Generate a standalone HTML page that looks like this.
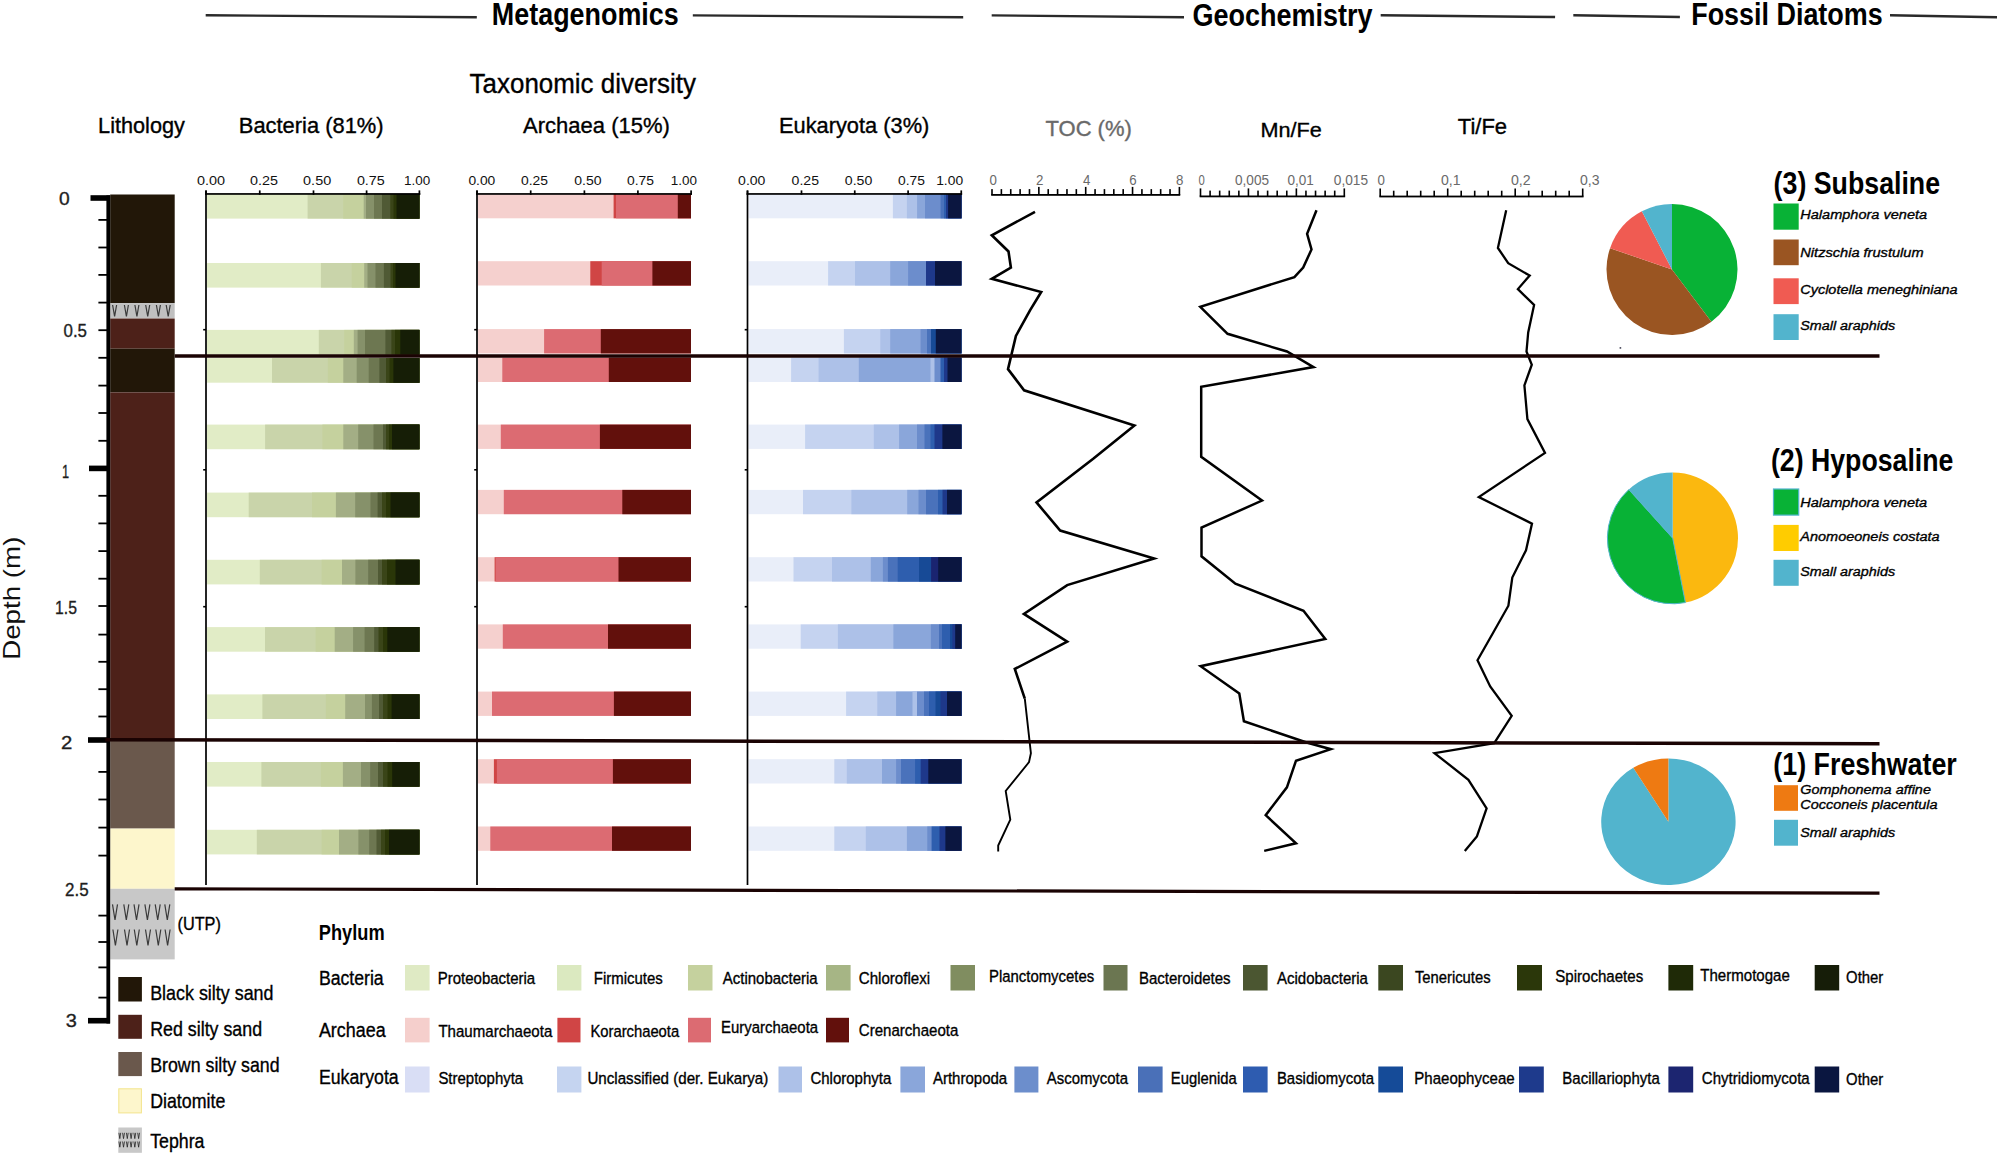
<!DOCTYPE html>
<html><head><meta charset="utf-8"><title>Metagenomics, Geochemistry and Fossil Diatoms</title>
<style>
html,body{margin:0;padding:0;background:#fff;}
svg{display:block;}
text{font-family:'Liberation Sans', Arial, sans-serif;}
</style></head>
<body>
<svg width="2000" height="1156" viewBox="0 0 2000 1156">
<rect x="0" y="0" width="2000" height="1156" fill="#fff"/>
<line x1="205.70" y1="15.30" x2="476.80" y2="17.30" stroke="#2a2a2a" stroke-width="2.4" />
<line x1="692.80" y1="15.40" x2="963.20" y2="17.30" stroke="#2a2a2a" stroke-width="2.4" />
<line x1="991.70" y1="15.40" x2="1184.00" y2="17.20" stroke="#2a2a2a" stroke-width="2.4" />
<line x1="1380.70" y1="15.20" x2="1555.10" y2="17.00" stroke="#2a2a2a" stroke-width="2.4" />
<line x1="1573.30" y1="15.20" x2="1679.90" y2="17.00" stroke="#2a2a2a" stroke-width="2.4" />
<line x1="1890.00" y1="15.20" x2="1997.00" y2="17.20" stroke="#2a2a2a" stroke-width="2.4" />
<text x="491.8" y="24.8" font-size="32" font-weight="bold" textLength="187.0" lengthAdjust="spacingAndGlyphs" >Metagenomics</text>
<text x="1192.4" y="25.8" font-size="32" font-weight="bold" textLength="180.0" lengthAdjust="spacingAndGlyphs" >Geochemistry</text>
<text x="1691.2" y="25.3" font-size="32" font-weight="bold" textLength="191.5" lengthAdjust="spacingAndGlyphs" >Fossil Diatoms</text>
<text x="469.6" y="92.5" font-size="27.49" textLength="226.3" lengthAdjust="spacingAndGlyphs" stroke="#000" stroke-width="0.35" >Taxonomic diversity</text>
<text x="98.1" y="133.3" font-size="21.39" textLength="86.8" lengthAdjust="spacingAndGlyphs" stroke="#000" stroke-width="0.35" >Lithology</text>
<text x="238.8" y="133.3" font-size="21.39" textLength="144.8" lengthAdjust="spacingAndGlyphs" stroke="#000" stroke-width="0.35" >Bacteria (81%)</text>
<text x="523.1" y="132.8" font-size="21.39" textLength="146.8" lengthAdjust="spacingAndGlyphs" stroke="#000" stroke-width="0.35" >Archaea (15%)</text>
<text x="779.0" y="133.1" font-size="21.39" textLength="150.3" lengthAdjust="spacingAndGlyphs" stroke="#000" stroke-width="0.35" >Eukaryota (3%)</text>
<text x="1045.5" y="136.2" font-size="21.39" fill="#6a6a6a" textLength="86.3" lengthAdjust="spacingAndGlyphs" stroke="#6a6a6a" stroke-width="0.35" >TOC (%)</text>
<text x="1260.5" y="136.7" font-size="20.79" textLength="61.3" lengthAdjust="spacingAndGlyphs" stroke="#000" stroke-width="0.35" >Mn/Fe</text>
<text x="1457.8" y="133.8" font-size="21.79" textLength="49.3" lengthAdjust="spacingAndGlyphs" stroke="#000" stroke-width="0.35" >Ti/Fe</text>
<text transform="translate(20.3,659.8) rotate(-90)" font-size="24.5" textLength="123.2" lengthAdjust="spacingAndGlyphs" fill="#111">Depth (m)</text>
<rect x="110.20" y="194.50" width="64.50" height="108.60" fill="#221708" />
<rect x="110.20" y="303.10" width="64.50" height="15.20" fill="#c0c0c0" />
<rect x="110.20" y="318.50" width="64.50" height="30.20" fill="#4d2119" />
<rect x="110.20" y="348.70" width="64.50" height="43.70" fill="#221708" />
<rect x="110.20" y="392.40" width="64.50" height="347.60" fill="#4d2119" />
<rect x="110.20" y="740.00" width="64.50" height="88.60" fill="#6a584c" />
<rect x="110.20" y="828.60" width="64.50" height="60.20" fill="#fdf6cc" />
<rect x="110.20" y="888.80" width="64.50" height="70.60" fill="#c8c8c8" />
<path d="M112.6,305.0 L114.6,316.4 L116.6,305.0" fill="none" stroke="#3a3a3a" stroke-width="1.2"/>
<path d="M124.4,305.0 L126.4,316.4 L128.4,305.0" fill="none" stroke="#3a3a3a" stroke-width="1.2"/>
<path d="M134.9,305.0 L136.9,316.4 L138.9,305.0" fill="none" stroke="#3a3a3a" stroke-width="1.2"/>
<path d="M145.7,305.0 L147.7,316.4 L149.7,305.0" fill="none" stroke="#3a3a3a" stroke-width="1.2"/>
<path d="M156.4,305.0 L158.4,316.4 L160.4,305.0" fill="none" stroke="#3a3a3a" stroke-width="1.2"/>
<path d="M166.2,305.0 L168.2,316.4 L170.2,305.0" fill="none" stroke="#3a3a3a" stroke-width="1.2"/>
<path d="M112.5,904.4 L115.0,920.0 L117.5,904.4" fill="none" stroke="#3a3a3a" stroke-width="1.2"/>
<path d="M123.8,904.4 L126.3,920.0 L128.8,904.4" fill="none" stroke="#3a3a3a" stroke-width="1.2"/>
<path d="M134.0,904.4 L136.5,920.0 L139.0,904.4" fill="none" stroke="#3a3a3a" stroke-width="1.2"/>
<path d="M144.9,904.4 L147.4,920.0 L149.9,904.4" fill="none" stroke="#3a3a3a" stroke-width="1.2"/>
<path d="M155.2,904.4 L157.7,920.0 L160.2,904.4" fill="none" stroke="#3a3a3a" stroke-width="1.2"/>
<path d="M164.8,904.4 L167.3,920.0 L169.8,904.4" fill="none" stroke="#3a3a3a" stroke-width="1.2"/>
<path d="M112.9,929.5 L115.4,945.5 L117.9,929.5" fill="none" stroke="#3a3a3a" stroke-width="1.2"/>
<path d="M124.5,929.5 L127.0,945.5 L129.5,929.5" fill="none" stroke="#3a3a3a" stroke-width="1.2"/>
<path d="M134.3,929.5 L136.8,945.5 L139.3,929.5" fill="none" stroke="#3a3a3a" stroke-width="1.2"/>
<path d="M145.5,929.5 L148.0,945.5 L150.5,929.5" fill="none" stroke="#3a3a3a" stroke-width="1.2"/>
<path d="M155.8,929.5 L158.3,945.5 L160.8,929.5" fill="none" stroke="#3a3a3a" stroke-width="1.2"/>
<path d="M165.1,929.5 L167.6,945.5 L170.1,929.5" fill="none" stroke="#3a3a3a" stroke-width="1.2"/>
<rect x="106.40" y="195.40" width="3.80" height="828.10" fill="#000" />
<rect x="90.50" y="195.20" width="19.50" height="5.60" fill="#000" />
<rect x="89.00" y="465.60" width="21.00" height="5.60" fill="#000" />
<rect x="88.00" y="737.20" width="22.00" height="5.60" fill="#000" />
<rect x="88.00" y="1017.90" width="22.00" height="5.60" fill="#000" />
<rect x="98.40" y="219.00" width="8.60" height="1.80" fill="#000" />
<rect x="98.40" y="246.60" width="8.60" height="1.80" fill="#000" />
<rect x="98.40" y="274.00" width="8.60" height="1.80" fill="#000" />
<rect x="98.40" y="301.70" width="8.60" height="1.80" fill="#000" />
<rect x="98.40" y="329.30" width="8.60" height="1.80" fill="#000" />
<rect x="98.40" y="356.90" width="8.60" height="1.80" fill="#000" />
<rect x="98.40" y="384.70" width="8.60" height="1.80" fill="#000" />
<rect x="98.40" y="412.10" width="8.60" height="1.80" fill="#000" />
<rect x="98.40" y="439.90" width="8.60" height="1.80" fill="#000" />
<rect x="98.40" y="494.90" width="8.60" height="1.80" fill="#000" />
<rect x="98.40" y="522.50" width="8.60" height="1.80" fill="#000" />
<rect x="98.40" y="550.20" width="8.60" height="1.80" fill="#000" />
<rect x="98.40" y="577.80" width="8.60" height="1.80" fill="#000" />
<rect x="98.40" y="605.10" width="8.60" height="1.80" fill="#000" />
<rect x="98.40" y="633.70" width="8.60" height="1.80" fill="#000" />
<rect x="98.40" y="660.90" width="8.60" height="1.80" fill="#000" />
<rect x="98.40" y="688.30" width="8.60" height="1.80" fill="#000" />
<rect x="98.40" y="715.60" width="8.60" height="1.80" fill="#000" />
<rect x="98.40" y="771.00" width="8.60" height="1.80" fill="#000" />
<rect x="98.40" y="798.60" width="8.60" height="1.80" fill="#000" />
<rect x="98.40" y="826.70" width="8.60" height="1.80" fill="#000" />
<rect x="98.40" y="854.70" width="8.60" height="1.80" fill="#000" />
<rect x="98.40" y="914.70" width="8.60" height="1.80" fill="#000" />
<rect x="98.40" y="941.10" width="8.60" height="1.80" fill="#000" />
<rect x="98.40" y="966.50" width="8.60" height="1.80" fill="#000" />
<rect x="98.40" y="996.70" width="8.60" height="1.80" fill="#000" />
<text x="59.0" y="204.7" font-size="18.99" fill="#1e1e1e" textLength="10.7" lengthAdjust="spacingAndGlyphs" stroke="#1e1e1e" stroke-width="0.35" >0</text>
<text x="63.5" y="336.8" font-size="18.99" fill="#1e1e1e" textLength="23.5" lengthAdjust="spacingAndGlyphs" stroke="#1e1e1e" stroke-width="0.35" >0.5</text>
<text x="62.1" y="477.6" font-size="18.99" fill="#1e1e1e" textLength="7.1" lengthAdjust="spacingAndGlyphs" stroke="#1e1e1e" stroke-width="0.35" >1</text>
<text x="55.1" y="613.9" font-size="18.99" fill="#1e1e1e" textLength="21.9" lengthAdjust="spacingAndGlyphs" stroke="#1e1e1e" stroke-width="0.35" >1.5</text>
<text x="61.1" y="748.9" font-size="18.99" fill="#1e1e1e" textLength="11.3" lengthAdjust="spacingAndGlyphs" stroke="#1e1e1e" stroke-width="0.35" >2</text>
<text x="65.0" y="896.1" font-size="18.99" fill="#1e1e1e" textLength="23.6" lengthAdjust="spacingAndGlyphs" stroke="#1e1e1e" stroke-width="0.35" >2.5</text>
<text x="65.8" y="1027.1" font-size="18.99" fill="#1e1e1e" textLength="11.1" lengthAdjust="spacingAndGlyphs" stroke="#1e1e1e" stroke-width="0.35" >3</text>
<text x="177.5" y="930.1" font-size="18.49" textLength="43.4" lengthAdjust="spacingAndGlyphs" stroke="#000" stroke-width="0.35" >(UTP)</text>
<rect x="118.30" y="977.00" width="23.60" height="24.50" fill="#221708" />
<rect x="118.30" y="1014.80" width="23.60" height="24.00" fill="#4d2119" />
<rect x="118.30" y="1052.00" width="23.60" height="24.10" fill="#6a584c" />
<rect x="118.80" y="1088.80" width="22.60" height="24.10" fill="#fdf6cc" stroke="#f3e48c" stroke-width="1"/>
<rect x="118.30" y="1127.50" width="23.60" height="25.30" fill="#c8c8c8" />
<path d="M118.9,1132.8 L119.8,1138.6 L120.7,1132.8" fill="none" stroke="#222" stroke-width="0.8"/>
<path d="M118.9,1141.5 L119.8,1147.2 L120.7,1141.5" fill="none" stroke="#222" stroke-width="0.8"/>
<path d="M122.6,1132.8 L123.5,1138.6 L124.5,1132.8" fill="none" stroke="#222" stroke-width="0.8"/>
<path d="M122.6,1141.5 L123.5,1147.2 L124.5,1141.5" fill="none" stroke="#222" stroke-width="0.8"/>
<path d="M126.4,1132.8 L127.3,1138.6 L128.2,1132.8" fill="none" stroke="#222" stroke-width="0.8"/>
<path d="M126.4,1141.5 L127.3,1147.2 L128.2,1141.5" fill="none" stroke="#222" stroke-width="0.8"/>
<path d="M130.2,1132.8 L131.1,1138.6 L132.0,1132.8" fill="none" stroke="#222" stroke-width="0.8"/>
<path d="M130.2,1141.5 L131.1,1147.2 L132.0,1141.5" fill="none" stroke="#222" stroke-width="0.8"/>
<path d="M133.9,1132.8 L134.8,1138.6 L135.7,1132.8" fill="none" stroke="#222" stroke-width="0.8"/>
<path d="M133.9,1141.5 L134.8,1147.2 L135.7,1141.5" fill="none" stroke="#222" stroke-width="0.8"/>
<path d="M137.7,1132.8 L138.6,1138.6 L139.5,1132.8" fill="none" stroke="#222" stroke-width="0.8"/>
<path d="M137.7,1141.5 L138.6,1147.2 L139.5,1141.5" fill="none" stroke="#222" stroke-width="0.8"/>
<text x="150.2" y="999.5" font-size="20.29" textLength="123.3" lengthAdjust="spacingAndGlyphs" stroke="#000" stroke-width="0.35" >Black silty sand</text>
<text x="150.2" y="1036.0" font-size="20.29" textLength="111.9" lengthAdjust="spacingAndGlyphs" stroke="#000" stroke-width="0.35" >Red silty sand</text>
<text x="150.2" y="1071.6" font-size="20.29" textLength="129.4" lengthAdjust="spacingAndGlyphs" stroke="#000" stroke-width="0.35" >Brown silty sand</text>
<text x="150.2" y="1107.7" font-size="20.29" textLength="75.1" lengthAdjust="spacingAndGlyphs" stroke="#000" stroke-width="0.35" >Diatomite</text>
<text x="150.2" y="1148.2" font-size="20.29" textLength="54.3" lengthAdjust="spacingAndGlyphs" stroke="#000" stroke-width="0.35" >Tephra</text>
<rect x="207.00" y="194.00" width="212.40" height="24.60" fill="#e1ecc6" />
<rect x="307.60" y="194.00" width="111.80" height="24.60" fill="#c9d4aa" />
<rect x="343.20" y="194.00" width="76.20" height="24.60" fill="#c5d19e" />
<rect x="363.70" y="194.00" width="55.70" height="24.60" fill="#a3ae85" />
<rect x="366.00" y="194.00" width="53.40" height="24.60" fill="#86916a" />
<rect x="374.00" y="194.00" width="45.40" height="24.60" fill="#6d7751" />
<rect x="382.00" y="194.00" width="37.40" height="24.60" fill="#505a35" />
<rect x="390.30" y="194.00" width="29.10" height="24.60" fill="#3a4518" />
<rect x="393.50" y="194.00" width="25.90" height="24.60" fill="#2a3608" />
<rect x="396.50" y="194.00" width="22.90" height="24.60" fill="#161e06" />
<rect x="207.00" y="263.00" width="212.40" height="24.60" fill="#e1ecc6" />
<rect x="320.90" y="263.00" width="98.50" height="24.60" fill="#c9d4aa" />
<rect x="351.70" y="263.00" width="67.70" height="24.60" fill="#c5d19e" />
<rect x="364.20" y="263.00" width="55.20" height="24.60" fill="#a3ae85" />
<rect x="367.50" y="263.00" width="51.90" height="24.60" fill="#86916a" />
<rect x="375.50" y="263.00" width="43.90" height="24.60" fill="#6d7751" />
<rect x="383.90" y="263.00" width="35.50" height="24.60" fill="#505a35" />
<rect x="390.50" y="263.00" width="28.90" height="24.60" fill="#3a4518" />
<rect x="393.00" y="263.00" width="26.40" height="24.60" fill="#2a3608" />
<rect x="395.50" y="263.00" width="23.90" height="24.60" fill="#161e06" />
<rect x="207.00" y="329.90" width="212.40" height="24.60" fill="#e1ecc6" />
<rect x="318.80" y="329.90" width="100.60" height="24.60" fill="#c9d4aa" />
<rect x="344.20" y="329.90" width="75.20" height="24.60" fill="#c5d19e" />
<rect x="353.80" y="329.90" width="65.60" height="24.60" fill="#a3ae85" />
<rect x="357.60" y="329.90" width="61.80" height="24.60" fill="#86916a" />
<rect x="365.00" y="329.90" width="54.40" height="24.60" fill="#6d7751" />
<rect x="385.40" y="329.90" width="34.00" height="24.60" fill="#505a35" />
<rect x="391.40" y="329.90" width="28.00" height="24.60" fill="#3a4518" />
<rect x="395.00" y="329.90" width="24.40" height="24.60" fill="#2a3608" />
<rect x="400.30" y="329.90" width="19.10" height="24.60" fill="#161e06" />
<rect x="207.00" y="358.10" width="212.40" height="24.60" fill="#e1ecc6" />
<rect x="272.00" y="358.10" width="147.40" height="24.60" fill="#c9d4aa" />
<rect x="327.80" y="358.10" width="91.60" height="24.60" fill="#c5d19e" />
<rect x="343.30" y="358.10" width="76.10" height="24.60" fill="#a3ae85" />
<rect x="356.70" y="358.10" width="62.70" height="24.60" fill="#86916a" />
<rect x="368.70" y="358.10" width="50.70" height="24.60" fill="#6d7751" />
<rect x="379.40" y="358.10" width="40.00" height="24.60" fill="#505a35" />
<rect x="386.00" y="358.10" width="33.40" height="24.60" fill="#3a4518" />
<rect x="389.50" y="358.10" width="29.90" height="24.60" fill="#2a3608" />
<rect x="393.40" y="358.10" width="26.00" height="24.60" fill="#161e06" />
<rect x="207.00" y="424.60" width="212.40" height="24.60" fill="#e1ecc6" />
<rect x="265.10" y="424.60" width="154.30" height="24.60" fill="#c9d4aa" />
<rect x="322.40" y="424.60" width="97.00" height="24.60" fill="#c5d19e" />
<rect x="343.30" y="424.60" width="76.10" height="24.60" fill="#a3ae85" />
<rect x="358.20" y="424.60" width="61.20" height="24.60" fill="#86916a" />
<rect x="373.50" y="424.60" width="45.90" height="24.60" fill="#6d7751" />
<rect x="383.00" y="424.60" width="36.40" height="24.60" fill="#505a35" />
<rect x="386.00" y="424.60" width="33.40" height="24.60" fill="#3a4518" />
<rect x="389.00" y="424.60" width="30.40" height="24.60" fill="#2a3608" />
<rect x="392.00" y="424.60" width="27.40" height="24.60" fill="#161e06" />
<rect x="207.00" y="492.60" width="212.40" height="24.60" fill="#e1ecc6" />
<rect x="248.70" y="492.60" width="170.70" height="24.60" fill="#c9d4aa" />
<rect x="312.00" y="492.60" width="107.40" height="24.60" fill="#c5d19e" />
<rect x="335.90" y="492.60" width="83.50" height="24.60" fill="#a3ae85" />
<rect x="355.20" y="492.60" width="64.20" height="24.60" fill="#86916a" />
<rect x="370.50" y="492.60" width="48.90" height="24.60" fill="#6d7751" />
<rect x="377.60" y="492.60" width="41.80" height="24.60" fill="#505a35" />
<rect x="382.00" y="492.60" width="37.40" height="24.60" fill="#3a4518" />
<rect x="386.00" y="492.60" width="33.40" height="24.60" fill="#2a3608" />
<rect x="390.50" y="492.60" width="28.90" height="24.60" fill="#161e06" />
<rect x="207.00" y="559.80" width="212.40" height="24.60" fill="#e1ecc6" />
<rect x="259.80" y="559.80" width="159.60" height="24.60" fill="#c9d4aa" />
<rect x="321.60" y="559.80" width="97.80" height="24.60" fill="#c5d19e" />
<rect x="342.00" y="559.80" width="77.40" height="24.60" fill="#a3ae85" />
<rect x="355.40" y="559.80" width="64.00" height="24.60" fill="#86916a" />
<rect x="368.20" y="559.80" width="51.20" height="24.60" fill="#6d7751" />
<rect x="378.00" y="559.80" width="41.40" height="24.60" fill="#505a35" />
<rect x="382.00" y="559.80" width="37.40" height="24.60" fill="#3a4518" />
<rect x="387.00" y="559.80" width="32.40" height="24.60" fill="#2a3608" />
<rect x="395.50" y="559.80" width="23.90" height="24.60" fill="#161e06" />
<rect x="207.00" y="627.10" width="212.40" height="24.60" fill="#e1ecc6" />
<rect x="265.00" y="627.10" width="154.40" height="24.60" fill="#c9d4aa" />
<rect x="315.60" y="627.10" width="103.80" height="24.60" fill="#c5d19e" />
<rect x="334.70" y="627.10" width="84.70" height="24.60" fill="#a3ae85" />
<rect x="353.10" y="627.10" width="66.30" height="24.60" fill="#86916a" />
<rect x="364.60" y="627.10" width="54.80" height="24.60" fill="#6d7751" />
<rect x="374.20" y="627.10" width="45.20" height="24.60" fill="#505a35" />
<rect x="378.50" y="627.10" width="40.90" height="24.60" fill="#3a4518" />
<rect x="383.00" y="627.10" width="36.40" height="24.60" fill="#2a3608" />
<rect x="387.30" y="627.10" width="32.10" height="24.60" fill="#161e06" />
<rect x="207.00" y="694.40" width="212.40" height="24.60" fill="#e1ecc6" />
<rect x="262.40" y="694.40" width="157.00" height="24.60" fill="#c9d4aa" />
<rect x="325.80" y="694.40" width="93.60" height="24.60" fill="#c5d19e" />
<rect x="345.20" y="694.40" width="74.20" height="24.60" fill="#a3ae85" />
<rect x="365.00" y="694.40" width="54.40" height="24.60" fill="#86916a" />
<rect x="371.90" y="694.40" width="47.50" height="24.60" fill="#6d7751" />
<rect x="379.00" y="694.40" width="40.40" height="24.60" fill="#505a35" />
<rect x="383.00" y="694.40" width="36.40" height="24.60" fill="#3a4518" />
<rect x="387.50" y="694.40" width="31.90" height="24.60" fill="#2a3608" />
<rect x="391.60" y="694.40" width="27.80" height="24.60" fill="#161e06" />
<rect x="207.00" y="762.00" width="212.40" height="24.60" fill="#e1ecc6" />
<rect x="261.40" y="762.00" width="158.00" height="24.60" fill="#c9d4aa" />
<rect x="320.90" y="762.00" width="98.50" height="24.60" fill="#c5d19e" />
<rect x="342.90" y="762.00" width="76.50" height="24.60" fill="#a3ae85" />
<rect x="361.00" y="762.00" width="58.40" height="24.60" fill="#86916a" />
<rect x="370.20" y="762.00" width="49.20" height="24.60" fill="#6d7751" />
<rect x="378.00" y="762.00" width="41.40" height="24.60" fill="#505a35" />
<rect x="383.00" y="762.00" width="36.40" height="24.60" fill="#3a4518" />
<rect x="387.50" y="762.00" width="31.90" height="24.60" fill="#2a3608" />
<rect x="392.20" y="762.00" width="27.20" height="24.60" fill="#161e06" />
<rect x="207.00" y="829.80" width="212.40" height="24.60" fill="#e1ecc6" />
<rect x="256.80" y="829.80" width="162.60" height="24.60" fill="#c9d4aa" />
<rect x="321.60" y="829.80" width="97.80" height="24.60" fill="#c5d19e" />
<rect x="339.00" y="829.80" width="80.40" height="24.60" fill="#a3ae85" />
<rect x="358.40" y="829.80" width="61.00" height="24.60" fill="#86916a" />
<rect x="369.20" y="829.80" width="50.20" height="24.60" fill="#6d7751" />
<rect x="376.50" y="829.80" width="42.90" height="24.60" fill="#505a35" />
<rect x="381.00" y="829.80" width="38.40" height="24.60" fill="#3a4518" />
<rect x="385.00" y="829.80" width="34.40" height="24.60" fill="#2a3608" />
<rect x="389.00" y="829.80" width="30.40" height="24.60" fill="#161e06" />
<rect x="478.00" y="194.00" width="213.00" height="24.30" fill="#f5d0ce" />
<rect x="613.60" y="194.00" width="77.40" height="24.30" fill="#d04545" />
<rect x="616.00" y="194.00" width="75.00" height="24.30" fill="#dc6b72" />
<rect x="677.80" y="194.00" width="13.20" height="24.30" fill="#62100c" />
<rect x="478.00" y="261.20" width="213.00" height="24.30" fill="#f5d0ce" />
<rect x="590.30" y="261.20" width="100.70" height="24.30" fill="#d04545" />
<rect x="601.70" y="261.20" width="89.30" height="24.30" fill="#dc6b72" />
<rect x="652.40" y="261.20" width="38.60" height="24.30" fill="#62100c" />
<rect x="478.00" y="329.10" width="213.00" height="24.30" fill="#f5d0ce" />
<rect x="544.10" y="329.10" width="146.90" height="24.30" fill="#dc6b72" />
<rect x="600.80" y="329.10" width="90.20" height="24.30" fill="#62100c" />
<rect x="478.00" y="357.70" width="213.00" height="24.30" fill="#f5d0ce" />
<rect x="502.30" y="357.70" width="188.70" height="24.30" fill="#dc6b72" />
<rect x="608.80" y="357.70" width="82.20" height="24.30" fill="#62100c" />
<rect x="478.00" y="424.60" width="213.00" height="24.30" fill="#f5d0ce" />
<rect x="500.80" y="424.60" width="190.20" height="24.30" fill="#dc6b72" />
<rect x="599.90" y="424.60" width="91.10" height="24.30" fill="#62100c" />
<rect x="478.00" y="489.90" width="213.00" height="24.30" fill="#f5d0ce" />
<rect x="503.80" y="489.90" width="187.20" height="24.30" fill="#dc6b72" />
<rect x="622.30" y="489.90" width="68.70" height="24.30" fill="#62100c" />
<rect x="478.00" y="557.20" width="213.00" height="24.30" fill="#f5d0ce" />
<rect x="494.60" y="557.20" width="196.40" height="24.30" fill="#d04545" />
<rect x="495.60" y="557.20" width="195.40" height="24.30" fill="#dc6b72" />
<rect x="618.50" y="557.20" width="72.50" height="24.30" fill="#62100c" />
<rect x="478.00" y="624.40" width="213.00" height="24.30" fill="#f5d0ce" />
<rect x="502.80" y="624.40" width="188.20" height="24.30" fill="#dc6b72" />
<rect x="608.00" y="624.40" width="83.00" height="24.30" fill="#62100c" />
<rect x="478.00" y="691.60" width="213.00" height="24.30" fill="#f5d0ce" />
<rect x="492.00" y="691.60" width="199.00" height="24.30" fill="#dc6b72" />
<rect x="613.90" y="691.60" width="77.10" height="24.30" fill="#62100c" />
<rect x="478.00" y="759.20" width="213.00" height="24.30" fill="#f5d0ce" />
<rect x="493.90" y="759.20" width="197.10" height="24.30" fill="#d04545" />
<rect x="496.90" y="759.20" width="194.10" height="24.30" fill="#dc6b72" />
<rect x="612.90" y="759.20" width="78.10" height="24.30" fill="#62100c" />
<rect x="478.00" y="826.50" width="213.00" height="24.30" fill="#f5d0ce" />
<rect x="490.30" y="826.50" width="200.70" height="24.30" fill="#dc6b72" />
<rect x="612.00" y="826.50" width="79.00" height="24.30" fill="#62100c" />
<rect x="748.60" y="194.00" width="212.90" height="24.30" fill="#e9eef9" />
<rect x="892.90" y="194.00" width="68.60" height="24.30" fill="#c5d3f0" />
<rect x="906.90" y="194.00" width="54.60" height="24.30" fill="#adc1e8" />
<rect x="917.10" y="194.00" width="44.40" height="24.30" fill="#8aa6da" />
<rect x="925.00" y="194.00" width="36.50" height="24.30" fill="#6c8dcc" />
<rect x="940.60" y="194.00" width="20.90" height="24.30" fill="#4a72bb" />
<rect x="944.00" y="194.00" width="17.50" height="24.30" fill="#2e5eae" />
<rect x="946.00" y="194.00" width="15.50" height="24.30" fill="#1e388a" />
<rect x="948.10" y="194.00" width="13.40" height="24.30" fill="#0b1640" />
<rect x="748.60" y="261.20" width="212.90" height="24.30" fill="#e9eef9" />
<rect x="828.10" y="261.20" width="133.40" height="24.30" fill="#c5d3f0" />
<rect x="855.00" y="261.20" width="106.50" height="24.30" fill="#adc1e8" />
<rect x="890.20" y="261.20" width="71.30" height="24.30" fill="#8aa6da" />
<rect x="908.10" y="261.20" width="53.40" height="24.30" fill="#6c8dcc" />
<rect x="926.00" y="261.20" width="35.50" height="24.30" fill="#1e388a" />
<rect x="935.00" y="261.20" width="26.50" height="24.30" fill="#0b1640" />
<rect x="748.60" y="329.10" width="212.90" height="24.30" fill="#e9eef9" />
<rect x="843.90" y="329.10" width="117.60" height="24.30" fill="#c5d3f0" />
<rect x="880.30" y="329.10" width="81.20" height="24.30" fill="#adc1e8" />
<rect x="890.20" y="329.10" width="71.30" height="24.30" fill="#8aa6da" />
<rect x="920.60" y="329.10" width="40.90" height="24.30" fill="#6c8dcc" />
<rect x="927.00" y="329.10" width="34.50" height="24.30" fill="#4a72bb" />
<rect x="931.00" y="329.10" width="30.50" height="24.30" fill="#174a96" />
<rect x="935.80" y="329.10" width="25.70" height="24.30" fill="#0b1640" />
<rect x="748.60" y="357.70" width="212.90" height="24.30" fill="#e9eef9" />
<rect x="791.10" y="357.70" width="170.40" height="24.30" fill="#c5d3f0" />
<rect x="818.60" y="357.70" width="142.90" height="24.30" fill="#adc1e8" />
<rect x="858.80" y="357.70" width="102.70" height="24.30" fill="#8aa6da" />
<rect x="930.50" y="357.70" width="31.00" height="24.30" fill="#adc1e8" />
<rect x="934.50" y="357.70" width="27.00" height="24.30" fill="#6c8dcc" />
<rect x="940.50" y="357.70" width="21.00" height="24.30" fill="#2e5eae" />
<rect x="944.00" y="357.70" width="17.50" height="24.30" fill="#1e388a" />
<rect x="947.50" y="357.70" width="14.00" height="24.30" fill="#0b1640" />
<rect x="748.60" y="424.60" width="212.90" height="24.30" fill="#e9eef9" />
<rect x="805.10" y="424.60" width="156.40" height="24.30" fill="#c5d3f0" />
<rect x="873.80" y="424.60" width="87.70" height="24.30" fill="#adc1e8" />
<rect x="899.10" y="424.60" width="62.40" height="24.30" fill="#8aa6da" />
<rect x="917.00" y="424.60" width="44.50" height="24.30" fill="#6c8dcc" />
<rect x="924.50" y="424.60" width="37.00" height="24.30" fill="#4a72bb" />
<rect x="930.50" y="424.60" width="31.00" height="24.30" fill="#2e5eae" />
<rect x="934.50" y="424.60" width="27.00" height="24.30" fill="#1e388a" />
<rect x="942.40" y="424.60" width="19.10" height="24.30" fill="#0b1640" />
<rect x="748.60" y="489.90" width="212.90" height="24.30" fill="#e9eef9" />
<rect x="803.00" y="489.90" width="158.50" height="24.30" fill="#c5d3f0" />
<rect x="851.40" y="489.90" width="110.10" height="24.30" fill="#adc1e8" />
<rect x="907.20" y="489.90" width="54.30" height="24.30" fill="#8aa6da" />
<rect x="918.50" y="489.90" width="43.00" height="24.30" fill="#6c8dcc" />
<rect x="926.00" y="489.90" width="35.50" height="24.30" fill="#4a72bb" />
<rect x="938.00" y="489.90" width="23.50" height="24.30" fill="#2e5eae" />
<rect x="942.50" y="489.90" width="19.00" height="24.30" fill="#1e388a" />
<rect x="947.00" y="489.90" width="14.50" height="24.30" fill="#0b1640" />
<rect x="748.60" y="557.20" width="212.90" height="24.30" fill="#e9eef9" />
<rect x="793.50" y="557.20" width="168.00" height="24.30" fill="#c5d3f0" />
<rect x="832.00" y="557.20" width="129.50" height="24.30" fill="#adc1e8" />
<rect x="870.80" y="557.20" width="90.70" height="24.30" fill="#8aa6da" />
<rect x="882.90" y="557.20" width="78.60" height="24.30" fill="#6c8dcc" />
<rect x="887.90" y="557.20" width="73.60" height="24.30" fill="#4a72bb" />
<rect x="897.70" y="557.20" width="63.80" height="24.30" fill="#2e5eae" />
<rect x="919.10" y="557.20" width="42.40" height="24.30" fill="#174a96" />
<rect x="931.10" y="557.20" width="30.40" height="24.30" fill="#1a2470" />
<rect x="938.20" y="557.20" width="23.30" height="24.30" fill="#0b1640" />
<rect x="748.60" y="624.40" width="212.90" height="24.30" fill="#e9eef9" />
<rect x="800.70" y="624.40" width="160.80" height="24.30" fill="#c5d3f0" />
<rect x="837.90" y="624.40" width="123.60" height="24.30" fill="#adc1e8" />
<rect x="893.40" y="624.40" width="68.10" height="24.30" fill="#8aa6da" />
<rect x="930.90" y="624.40" width="30.60" height="24.30" fill="#6c8dcc" />
<rect x="939.00" y="624.40" width="22.50" height="24.30" fill="#4a72bb" />
<rect x="942.00" y="624.40" width="19.50" height="24.30" fill="#2e5eae" />
<rect x="950.00" y="624.40" width="11.50" height="24.30" fill="#174a96" />
<rect x="952.40" y="624.40" width="9.10" height="24.30" fill="#1e388a" />
<rect x="955.20" y="624.40" width="6.30" height="24.30" fill="#0b1640" />
<rect x="748.60" y="691.60" width="212.90" height="24.30" fill="#e9eef9" />
<rect x="846.10" y="691.60" width="115.40" height="24.30" fill="#c5d3f0" />
<rect x="877.30" y="691.60" width="84.20" height="24.30" fill="#adc1e8" />
<rect x="896.10" y="691.60" width="65.40" height="24.30" fill="#8aa6da" />
<rect x="912.50" y="691.60" width="49.00" height="24.30" fill="#adc1e8" />
<rect x="917.00" y="691.60" width="44.50" height="24.30" fill="#6c8dcc" />
<rect x="924.00" y="691.60" width="37.50" height="24.30" fill="#4a72bb" />
<rect x="929.00" y="691.60" width="32.50" height="24.30" fill="#2e5eae" />
<rect x="935.50" y="691.60" width="26.00" height="24.30" fill="#174a96" />
<rect x="940.50" y="691.60" width="21.00" height="24.30" fill="#1e388a" />
<rect x="947.00" y="691.60" width="14.50" height="24.30" fill="#0b1640" />
<rect x="748.60" y="759.20" width="212.90" height="24.30" fill="#e9eef9" />
<rect x="834.30" y="759.20" width="127.20" height="24.30" fill="#c5d3f0" />
<rect x="846.80" y="759.20" width="114.70" height="24.30" fill="#adc1e8" />
<rect x="882.00" y="759.20" width="79.50" height="24.30" fill="#8aa6da" />
<rect x="896.10" y="759.20" width="65.40" height="24.30" fill="#6c8dcc" />
<rect x="901.00" y="759.20" width="60.50" height="24.30" fill="#4a72bb" />
<rect x="915.10" y="759.20" width="46.40" height="24.30" fill="#2e5eae" />
<rect x="920.70" y="759.20" width="40.80" height="24.30" fill="#1e388a" />
<rect x="928.30" y="759.20" width="33.20" height="24.30" fill="#0b1640" />
<rect x="748.60" y="826.50" width="212.90" height="24.30" fill="#e9eef9" />
<rect x="834.30" y="826.50" width="127.20" height="24.30" fill="#c5d3f0" />
<rect x="865.80" y="826.50" width="95.70" height="24.30" fill="#adc1e8" />
<rect x="906.90" y="826.50" width="54.60" height="24.30" fill="#8aa6da" />
<rect x="927.30" y="826.50" width="34.20" height="24.30" fill="#6c8dcc" />
<rect x="931.60" y="826.50" width="29.90" height="24.30" fill="#2e5eae" />
<rect x="939.50" y="826.50" width="22.00" height="24.30" fill="#1e388a" />
<rect x="945.40" y="826.50" width="16.10" height="24.30" fill="#0b1640" />
<rect x="205.15" y="190.60" width="1.70" height="694.40" fill="#000" />
<rect x="205.15" y="193.10" width="215.10" height="1.70" fill="#000" />
<rect x="205.15" y="190.40" width="1.70" height="4.40" fill="#000" />
<rect x="258.90" y="190.40" width="1.70" height="4.40" fill="#000" />
<rect x="312.65" y="190.40" width="1.70" height="4.40" fill="#000" />
<rect x="365.75" y="190.40" width="1.70" height="4.40" fill="#000" />
<rect x="418.55" y="190.40" width="1.70" height="4.40" fill="#000" />
<text x="196.9" y="184.9" font-size="13.2" fill="#111" textLength="28.1" lengthAdjust="spacingAndGlyphs" >0.00</text>
<text x="250.0" y="184.9" font-size="13.2" fill="#111" textLength="27.9" lengthAdjust="spacingAndGlyphs" >0.25</text>
<text x="303.1" y="184.9" font-size="13.2" fill="#111" textLength="28.1" lengthAdjust="spacingAndGlyphs" >0.50</text>
<text x="356.9" y="184.9" font-size="13.2" fill="#111" textLength="27.9" lengthAdjust="spacingAndGlyphs" >0.75</text>
<text x="404.0" y="184.9" font-size="13.2" fill="#111" textLength="26.2" lengthAdjust="spacingAndGlyphs" >1.00</text>
<rect x="203.20" y="328.90" width="2.80" height="1.60" fill="#000" />
<rect x="203.20" y="469.00" width="2.80" height="1.60" fill="#000" />
<rect x="203.20" y="605.90" width="2.80" height="1.60" fill="#000" />
<rect x="476.15" y="190.60" width="1.70" height="694.40" fill="#000" />
<rect x="476.15" y="193.10" width="215.80" height="1.70" fill="#000" />
<rect x="476.15" y="190.40" width="1.70" height="4.40" fill="#000" />
<rect x="529.85" y="190.40" width="1.70" height="4.40" fill="#000" />
<rect x="583.55" y="190.40" width="1.70" height="4.40" fill="#000" />
<rect x="637.05" y="190.40" width="1.70" height="4.40" fill="#000" />
<rect x="690.25" y="190.40" width="1.70" height="4.40" fill="#000" />
<text x="468.4" y="184.9" font-size="13.2" fill="#111" textLength="26.9" lengthAdjust="spacingAndGlyphs" >0.00</text>
<text x="521.0" y="184.9" font-size="13.2" fill="#111" textLength="27.0" lengthAdjust="spacingAndGlyphs" >0.25</text>
<text x="574.2" y="184.9" font-size="13.2" fill="#111" textLength="27.3" lengthAdjust="spacingAndGlyphs" >0.50</text>
<text x="627.0" y="184.9" font-size="13.2" fill="#111" textLength="27.0" lengthAdjust="spacingAndGlyphs" >0.75</text>
<text x="670.8" y="184.9" font-size="13.2" fill="#111" textLength="26.2" lengthAdjust="spacingAndGlyphs" >1.00</text>
<rect x="474.20" y="328.90" width="2.80" height="1.60" fill="#000" />
<rect x="474.20" y="469.00" width="2.80" height="1.60" fill="#000" />
<rect x="474.20" y="605.90" width="2.80" height="1.60" fill="#000" />
<rect x="746.65" y="190.60" width="1.70" height="694.40" fill="#000" />
<rect x="746.65" y="193.10" width="215.45" height="1.70" fill="#000" />
<rect x="746.65" y="190.40" width="1.70" height="4.40" fill="#000" />
<rect x="800.65" y="190.40" width="1.70" height="4.40" fill="#000" />
<rect x="853.90" y="190.40" width="1.70" height="4.40" fill="#000" />
<rect x="907.25" y="190.40" width="1.70" height="4.40" fill="#000" />
<rect x="960.40" y="190.40" width="1.70" height="4.40" fill="#000" />
<text x="738.1" y="184.9" font-size="13.2" fill="#111" textLength="27.3" lengthAdjust="spacingAndGlyphs" >0.00</text>
<text x="791.6" y="184.9" font-size="13.2" fill="#111" textLength="27.4" lengthAdjust="spacingAndGlyphs" >0.25</text>
<text x="844.8" y="184.9" font-size="13.2" fill="#111" textLength="27.5" lengthAdjust="spacingAndGlyphs" >0.50</text>
<text x="898.1" y="184.9" font-size="13.2" fill="#111" textLength="26.9" lengthAdjust="spacingAndGlyphs" >0.75</text>
<text x="936.2" y="184.9" font-size="13.2" fill="#111" textLength="26.9" lengthAdjust="spacingAndGlyphs" >1.00</text>
<rect x="744.70" y="328.90" width="2.80" height="1.60" fill="#000" />
<rect x="744.70" y="469.00" width="2.80" height="1.60" fill="#000" />
<rect x="744.70" y="605.90" width="2.80" height="1.60" fill="#000" />
<rect x="991.15" y="194.00" width="189.10" height="1.80" fill="#000" />
<rect x="991.20" y="189.10" width="1.60" height="5.80" fill="#000" />
<rect x="1000.57" y="189.10" width="1.60" height="5.80" fill="#000" />
<rect x="1009.94" y="189.10" width="1.60" height="5.80" fill="#000" />
<rect x="1019.31" y="189.10" width="1.60" height="5.80" fill="#000" />
<rect x="1028.68" y="189.10" width="1.60" height="5.80" fill="#000" />
<rect x="1038.05" y="186.90" width="1.60" height="8.00" fill="#000" />
<rect x="1047.42" y="189.10" width="1.60" height="5.80" fill="#000" />
<rect x="1056.79" y="189.10" width="1.60" height="5.80" fill="#000" />
<rect x="1066.16" y="189.10" width="1.60" height="5.80" fill="#000" />
<rect x="1075.53" y="189.10" width="1.60" height="5.80" fill="#000" />
<rect x="1084.90" y="186.90" width="1.60" height="8.00" fill="#000" />
<rect x="1094.27" y="189.10" width="1.60" height="5.80" fill="#000" />
<rect x="1103.64" y="189.10" width="1.60" height="5.80" fill="#000" />
<rect x="1113.01" y="189.10" width="1.60" height="5.80" fill="#000" />
<rect x="1122.38" y="189.10" width="1.60" height="5.80" fill="#000" />
<rect x="1131.75" y="186.90" width="1.60" height="8.00" fill="#000" />
<rect x="1141.12" y="189.10" width="1.60" height="5.80" fill="#000" />
<rect x="1150.49" y="189.10" width="1.60" height="5.80" fill="#000" />
<rect x="1159.86" y="189.10" width="1.60" height="5.80" fill="#000" />
<rect x="1169.23" y="189.10" width="1.60" height="5.80" fill="#000" />
<rect x="1178.60" y="186.90" width="1.60" height="8.00" fill="#000" />
<text x="989.6" y="184.6" font-size="13.8" fill="#6a6a6a" textLength="7.4" lengthAdjust="spacingAndGlyphs" >0</text>
<text x="1036.0" y="184.6" font-size="13.8" fill="#6a6a6a" textLength="7.4" lengthAdjust="spacingAndGlyphs" >2</text>
<text x="1083.1" y="184.6" font-size="13.8" fill="#6a6a6a" textLength="7.4" lengthAdjust="spacingAndGlyphs" >4</text>
<text x="1129.3" y="184.6" font-size="13.8" fill="#6a6a6a" textLength="7.4" lengthAdjust="spacingAndGlyphs" >6</text>
<text x="1176.0" y="184.6" font-size="13.8" fill="#6a6a6a" textLength="7.4" lengthAdjust="spacingAndGlyphs" >8</text>
<rect x="1199.65" y="195.50" width="145.50" height="1.80" fill="#000" />
<rect x="1199.70" y="188.40" width="1.60" height="8.00" fill="#000" />
<rect x="1209.29" y="190.60" width="1.60" height="5.80" fill="#000" />
<rect x="1218.87" y="190.60" width="1.60" height="5.80" fill="#000" />
<rect x="1228.46" y="190.60" width="1.60" height="5.80" fill="#000" />
<rect x="1238.05" y="190.60" width="1.60" height="5.80" fill="#000" />
<rect x="1247.63" y="188.40" width="1.60" height="8.00" fill="#000" />
<rect x="1257.22" y="190.60" width="1.60" height="5.80" fill="#000" />
<rect x="1266.81" y="190.60" width="1.60" height="5.80" fill="#000" />
<rect x="1276.39" y="190.60" width="1.60" height="5.80" fill="#000" />
<rect x="1285.98" y="190.60" width="1.60" height="5.80" fill="#000" />
<rect x="1295.57" y="188.40" width="1.60" height="8.00" fill="#000" />
<rect x="1305.15" y="190.60" width="1.60" height="5.80" fill="#000" />
<rect x="1314.74" y="190.60" width="1.60" height="5.80" fill="#000" />
<rect x="1324.33" y="190.60" width="1.60" height="5.80" fill="#000" />
<rect x="1333.91" y="190.60" width="1.60" height="5.80" fill="#000" />
<rect x="1343.50" y="188.40" width="1.60" height="8.00" fill="#000" />
<text x="1198.4" y="185.2" font-size="13.8" fill="#6a6a6a" textLength="6.3" lengthAdjust="spacingAndGlyphs" >0</text>
<text x="1235.0" y="185.2" font-size="13.8" fill="#6a6a6a" textLength="34.0" lengthAdjust="spacingAndGlyphs" >0,005</text>
<text x="1287.6" y="185.2" font-size="13.8" fill="#6a6a6a" textLength="26.3" lengthAdjust="spacingAndGlyphs" >0,01</text>
<text x="1333.8" y="185.2" font-size="13.8" fill="#6a6a6a" textLength="34.2" lengthAdjust="spacingAndGlyphs" >0,015</text>
<rect x="1379.35" y="195.60" width="204.20" height="1.80" fill="#000" />
<rect x="1379.40" y="188.50" width="1.60" height="8.00" fill="#000" />
<rect x="1392.90" y="190.70" width="1.60" height="5.80" fill="#000" />
<rect x="1406.40" y="190.70" width="1.60" height="5.80" fill="#000" />
<rect x="1419.90" y="190.70" width="1.60" height="5.80" fill="#000" />
<rect x="1433.40" y="190.70" width="1.60" height="5.80" fill="#000" />
<rect x="1446.90" y="188.50" width="1.60" height="8.00" fill="#000" />
<rect x="1460.40" y="190.70" width="1.60" height="5.80" fill="#000" />
<rect x="1473.90" y="190.70" width="1.60" height="5.80" fill="#000" />
<rect x="1487.40" y="190.70" width="1.60" height="5.80" fill="#000" />
<rect x="1500.90" y="190.70" width="1.60" height="5.80" fill="#000" />
<rect x="1514.40" y="188.50" width="1.60" height="8.00" fill="#000" />
<rect x="1527.90" y="190.70" width="1.60" height="5.80" fill="#000" />
<rect x="1541.40" y="190.70" width="1.60" height="5.80" fill="#000" />
<rect x="1554.90" y="190.70" width="1.60" height="5.80" fill="#000" />
<rect x="1568.40" y="190.70" width="1.60" height="5.80" fill="#000" />
<rect x="1581.90" y="188.50" width="1.60" height="8.00" fill="#000" />
<text x="1377.5" y="185.2" font-size="13.8" fill="#6a6a6a" textLength="7.4" lengthAdjust="spacingAndGlyphs" >0</text>
<text x="1441.0" y="185.2" font-size="13.8" fill="#6a6a6a" textLength="19.5" lengthAdjust="spacingAndGlyphs" >0,1</text>
<text x="1510.9" y="185.2" font-size="13.8" fill="#6a6a6a" textLength="19.7" lengthAdjust="spacingAndGlyphs" >0,2</text>
<text x="1580.0" y="185.2" font-size="13.8" fill="#6a6a6a" textLength="19.5" lengthAdjust="spacingAndGlyphs" >0,3</text>
<polyline points="1035.0,211.8 991.8,235.3 1008.5,251.5 1010.9,267.6 991.8,278.8 1041.2,292.0 1030.0,310.3 1015.9,335.9 1008.0,369.1 1024.1,390.3 1134.4,425.6 1093.2,458.8 1036.5,502.4 1060.2,530.6 1154.1,558.4 1067.2,585.1 1023.9,613.9 1067.2,641.7 1014.8,669.0 1024.8,698.6" fill="none" stroke="#000" stroke-width="2.6" stroke-linejoin="miter" />
<polyline points="1024.8,698.6 1030.9,753.1 1029.0,762.2 1005.7,791.0 1010.3,819.7 998.2,845.5 998.2,851.5" fill="none" stroke="#000" stroke-width="1.9" stroke-linejoin="miter" />
<polyline points="1316.5,210.3 1307.1,233.8 1311.5,249.4 1303.2,267.6 1294.4,277.1 1200.3,306.8 1227.6,333.8 1287.0,351.5 1313.5,367.1 1201.2,386.8 1201.2,456.8 1262.0,500.6 1201.5,527.6 1201.5,556.3 1235.4,583.6 1303.5,610.8 1325.3,639.0 1200.6,666.2 1239.3,693.5 1243.9,721.3 1306.6,742.5 1330.8,749.2 1296.0,760.7 1286.9,787.3 1265.7,815.2 1296.0,843.3 1264.2,850.9" fill="none" stroke="#000" stroke-width="2.5" stroke-linejoin="miter" />
<polyline points="1506.2,210.3 1497.9,247.9 1508.2,263.2 1529.7,275.6 1517.9,289.1 1534.1,305.0 1528.2,332.4 1526.5,351.5 1531.8,364.7 1524.4,385.3 1527.4,419.1 1545.0,452.9 1478.8,497.1 1532.0,523.6 1526.0,550.3 1512.3,577.5 1508.4,605.7 1492.7,633.5 1477.5,660.2 1490.2,686.5 1511.7,715.9 1494.2,743.1 1434.5,753.1 1468.4,779.8 1486.6,808.5 1476.9,836.4 1464.8,850.9" fill="none" stroke="#000" stroke-width="2.3" stroke-linejoin="miter" />
<line x1="174.70" y1="356.00" x2="1879.50" y2="355.90" stroke="#1a0303" stroke-width="3.5" />
<line x1="105.30" y1="739.70" x2="1879.50" y2="743.70" stroke="#1a0303" stroke-width="3.5" />
<line x1="174.70" y1="888.80" x2="1879.50" y2="893.20" stroke="#1a0303" stroke-width="3.2" />
<path d="M1672.0,269.5 L1672.00,204.00 A65.5,65.5 0 0 1 1711.42,321.81 Z" fill="#08b236" />
<path d="M1672.0,269.5 L1711.42,321.81 A65.5,65.5 0 0 1 1610.07,248.18 Z" fill="#9a5522" />
<path d="M1672.0,269.5 L1610.07,248.18 A65.5,65.5 0 0 1 1641.86,211.35 Z" fill="#f05b52" />
<path d="M1672.0,269.5 L1641.86,211.35 A65.5,65.5 0 0 1 1672.00,204.00 Z" fill="#52b4cd" />
<path d="M1672.7,538.2 L1672.70,472.60 A65.3,65.6 0 0 1 1685.38,602.55 Z" fill="#fbb80f" />
<path d="M1672.7,538.2 L1685.38,602.55 A65.3,65.6 0 0 1 1628.84,489.60 Z" fill="#08b236" stroke="#52b4cd" stroke-width="1"/>
<path d="M1672.7,538.2 L1628.84,489.60 A65.3,65.6 0 0 1 1672.70,472.60 Z" fill="#52b4cd" />
<path d="M1668.4,821.8 L1668.40,758.50 A67.2,63.3 0 1 1 1633.29,767.83 Z" fill="#52b4cd" />
<path d="M1668.4,821.8 L1633.29,767.83 A67.2,63.3 0 0 1 1668.40,758.50 Z" fill="#ee7a12" />
<rect x="1619.60" y="347.00" width="1.60" height="1.80" fill="#555566" />
<text x="1773.6" y="193.6" font-size="32" font-weight="bold" textLength="166.5" lengthAdjust="spacingAndGlyphs" >(3) Subsaline</text>
<rect x="1773.50" y="203.50" width="25.20" height="26.20" fill="#08b236" />
<rect x="1773.50" y="239.50" width="25.20" height="25.70" fill="#9a5522" />
<rect x="1773.50" y="278.30" width="25.20" height="25.80" fill="#f05b52" />
<rect x="1773.50" y="314.20" width="25.20" height="25.80" fill="#52b4cd" />
<text x="1800.3" y="219.2" font-size="13.49" font-style="italic" textLength="126.8" lengthAdjust="spacingAndGlyphs" stroke="#000" stroke-width="0.35" >Halamphora veneta</text>
<text x="1800.3" y="257.0" font-size="13.49" font-style="italic" textLength="123.3" lengthAdjust="spacingAndGlyphs" stroke="#000" stroke-width="0.35" >Nitzschia frustulum</text>
<text x="1800.3" y="293.9" font-size="13.49" font-style="italic" textLength="157.3" lengthAdjust="spacingAndGlyphs" stroke="#000" stroke-width="0.35" >Cyclotella meneghiniana</text>
<text x="1800.3" y="330.2" font-size="13.49" font-style="italic" textLength="94.8" lengthAdjust="spacingAndGlyphs" stroke="#000" stroke-width="0.35" >Small araphids</text>
<text x="1770.9" y="471.2" font-size="32" font-weight="bold" textLength="182.5" lengthAdjust="spacingAndGlyphs" >(2) Hyposaline</text>
<rect x="1773.50" y="489.00" width="25.20" height="26.10" fill="#08b236" stroke="#52b4cd" stroke-width="1.2"/>
<rect x="1773.50" y="524.90" width="25.20" height="26.10" fill="#ffcc00" />
<rect x="1773.50" y="559.80" width="25.20" height="26.00" fill="#52b4cd" />
<text x="1800.3" y="506.5" font-size="13.49" font-style="italic" textLength="126.8" lengthAdjust="spacingAndGlyphs" stroke="#000" stroke-width="0.35" >Halamphora veneta</text>
<text x="1800.3" y="541.4" font-size="13.49" font-style="italic" textLength="139.3" lengthAdjust="spacingAndGlyphs" stroke="#000" stroke-width="0.35" >Anomoeoneis costata</text>
<text x="1800.3" y="575.6" font-size="13.49" font-style="italic" textLength="94.8" lengthAdjust="spacingAndGlyphs" stroke="#000" stroke-width="0.35" >Small araphids</text>
<text x="1773.3" y="774.8" font-size="32" font-weight="bold" textLength="183.5" lengthAdjust="spacingAndGlyphs" >(1) Freshwater</text>
<rect x="1774.00" y="785.20" width="24.00" height="25.60" fill="#ee7a12" />
<rect x="1774.00" y="819.80" width="24.00" height="25.90" fill="#52b4cd" />
<text x="1800.3" y="793.9" font-size="13.49" font-style="italic" textLength="130.6" lengthAdjust="spacingAndGlyphs" stroke="#000" stroke-width="0.35" >Gomphonema affine</text>
<text x="1800.3" y="809.2" font-size="13.49" font-style="italic" textLength="137.3" lengthAdjust="spacingAndGlyphs" stroke="#000" stroke-width="0.35" >Cocconeis placentula</text>
<text x="1800.3" y="836.9" font-size="13.49" font-style="italic" textLength="94.8" lengthAdjust="spacingAndGlyphs" stroke="#000" stroke-width="0.35" >Small araphids</text>
<text x="318.8" y="940.0" font-size="21.7" font-weight="bold" textLength="65.8" lengthAdjust="spacingAndGlyphs" >Phylum</text>
<text x="318.9" y="984.8" font-size="20.59" textLength="64.8" lengthAdjust="spacingAndGlyphs" stroke="#000" stroke-width="0.35" >Bacteria</text>
<text x="318.9" y="1037.2" font-size="20.59" textLength="66.8" lengthAdjust="spacingAndGlyphs" stroke="#000" stroke-width="0.35" >Archaea</text>
<text x="318.9" y="1084.2" font-size="20.59" textLength="79.8" lengthAdjust="spacingAndGlyphs" stroke="#000" stroke-width="0.35" >Eukaryota</text>
<rect x="405.00" y="965.00" width="24.60" height="25.50" fill="#dfeac4" />
<text x="437.8" y="984.0" font-size="16.99" textLength="97.4" lengthAdjust="spacingAndGlyphs" stroke="#000" stroke-width="0.35" >Proteobacteria</text>
<rect x="557.00" y="965.00" width="24.40" height="25.50" fill="#dbe9c0" />
<text x="593.8" y="984.0" font-size="16.99" textLength="68.9" lengthAdjust="spacingAndGlyphs" stroke="#000" stroke-width="0.35" >Firmicutes</text>
<rect x="688.00" y="965.00" width="24.50" height="25.50" fill="#c5d19e" />
<text x="722.8" y="984.0" font-size="16.99" textLength="94.9" lengthAdjust="spacingAndGlyphs" stroke="#000" stroke-width="0.35" >Actinobacteria</text>
<rect x="826.00" y="965.00" width="24.60" height="25.50" fill="#a6b585" />
<text x="858.8" y="984.1" font-size="16.99" textLength="71.3" lengthAdjust="spacingAndGlyphs" stroke="#000" stroke-width="0.35" >Chloroflexi</text>
<rect x="950.50" y="965.00" width="24.50" height="25.50" fill="#808d60" />
<text x="989.0" y="982.0" font-size="16.99" textLength="105.2" lengthAdjust="spacingAndGlyphs" stroke="#000" stroke-width="0.35" >Planctomycetes</text>
<rect x="1103.50" y="965.00" width="24.00" height="25.50" fill="#6b7651" />
<text x="1138.9" y="984.1" font-size="16.99" textLength="91.7" lengthAdjust="spacingAndGlyphs" stroke="#000" stroke-width="0.35" >Bacteroidetes</text>
<rect x="1243.00" y="965.00" width="24.60" height="25.50" fill="#4b5631" />
<text x="1276.9" y="984.1" font-size="16.99" textLength="91.1" lengthAdjust="spacingAndGlyphs" stroke="#000" stroke-width="0.35" >Acidobacteria</text>
<rect x="1378.30" y="965.00" width="24.70" height="25.50" fill="#3b4720" />
<text x="1414.9" y="983.2" font-size="16.99" textLength="75.7" lengthAdjust="spacingAndGlyphs" stroke="#000" stroke-width="0.35" >Tenericutes</text>
<rect x="1517.00" y="965.00" width="25.00" height="25.50" fill="#2b370a" />
<text x="1555.3" y="982.1" font-size="16.99" textLength="87.9" lengthAdjust="spacingAndGlyphs" stroke="#000" stroke-width="0.35" >Spirochaetes</text>
<rect x="1668.40" y="965.00" width="24.80" height="25.50" fill="#1f2a07" />
<text x="1700.3" y="981.2" font-size="16.99" textLength="89.5" lengthAdjust="spacingAndGlyphs" stroke="#000" stroke-width="0.35" >Thermotogae</text>
<rect x="1814.70" y="965.00" width="24.50" height="25.50" fill="#161d08" />
<text x="1846.1" y="983.2" font-size="16.99" textLength="37.2" lengthAdjust="spacingAndGlyphs" stroke="#000" stroke-width="0.35" >Other</text>
<rect x="405.00" y="1017.80" width="24.60" height="24.60" fill="#f5cfcc" />
<text x="438.4" y="1036.5" font-size="16.99" textLength="113.9" lengthAdjust="spacingAndGlyphs" stroke="#000" stroke-width="0.35" >Thaumarchaeota</text>
<rect x="557.40" y="1017.80" width="23.10" height="24.60" fill="#d04545" />
<text x="590.4" y="1036.5" font-size="16.99" textLength="88.8" lengthAdjust="spacingAndGlyphs" stroke="#000" stroke-width="0.35" >Korarchaeota</text>
<rect x="688.00" y="1017.80" width="23.00" height="24.60" fill="#dc6b72" />
<text x="721.0" y="1033.2" font-size="16.99" textLength="97.1" lengthAdjust="spacingAndGlyphs" stroke="#000" stroke-width="0.35" >Euryarchaeota</text>
<rect x="826.00" y="1017.80" width="23.00" height="24.60" fill="#62100c" />
<text x="858.8" y="1035.7" font-size="16.99" textLength="99.5" lengthAdjust="spacingAndGlyphs" stroke="#000" stroke-width="0.35" >Crenarchaeota</text>
<rect x="405.00" y="1066.50" width="24.60" height="26.00" fill="#d9def5" />
<text x="438.4" y="1084.1" font-size="16.99" textLength="84.8" lengthAdjust="spacingAndGlyphs" stroke="#000" stroke-width="0.35" >Streptophyta</text>
<rect x="557.00" y="1066.50" width="24.40" height="26.00" fill="#c5d4f0" />
<text x="587.4" y="1084.1" font-size="16.99" textLength="180.9" lengthAdjust="spacingAndGlyphs" stroke="#000" stroke-width="0.35" >Unclassified (der. Eukarya)</text>
<rect x="778.50" y="1066.50" width="23.50" height="26.00" fill="#adc1e8" />
<text x="810.4" y="1084.1" font-size="16.99" textLength="80.9" lengthAdjust="spacingAndGlyphs" stroke="#000" stroke-width="0.35" >Chlorophyta</text>
<rect x="900.40" y="1066.50" width="24.60" height="26.00" fill="#8aa6da" />
<text x="932.9" y="1084.1" font-size="16.99" textLength="74.3" lengthAdjust="spacingAndGlyphs" stroke="#000" stroke-width="0.35" >Arthropoda</text>
<rect x="1014.40" y="1066.50" width="24.00" height="26.00" fill="#6c8ecc" />
<text x="1046.8" y="1084.1" font-size="16.99" textLength="81.2" lengthAdjust="spacingAndGlyphs" stroke="#000" stroke-width="0.35" >Ascomycota</text>
<rect x="1138.00" y="1066.50" width="24.60" height="26.00" fill="#4a70b8" />
<text x="1170.8" y="1084.1" font-size="16.99" textLength="65.9" lengthAdjust="spacingAndGlyphs" stroke="#000" stroke-width="0.35" >Euglenida</text>
<rect x="1243.00" y="1066.50" width="24.60" height="26.00" fill="#2e5cb0" />
<text x="1276.9" y="1084.1" font-size="16.99" textLength="97.1" lengthAdjust="spacingAndGlyphs" stroke="#000" stroke-width="0.35" >Basidiomycota</text>
<rect x="1378.30" y="1066.50" width="24.70" height="26.00" fill="#154b98" />
<text x="1414.3" y="1083.9" font-size="16.99" textLength="100.3" lengthAdjust="spacingAndGlyphs" stroke="#000" stroke-width="0.35" >Phaeophyceae</text>
<rect x="1519.00" y="1066.50" width="24.80" height="26.00" fill="#1e3a8c" />
<text x="1562.3" y="1083.9" font-size="16.99" textLength="97.5" lengthAdjust="spacingAndGlyphs" stroke="#000" stroke-width="0.35" >Bacillariophyta</text>
<rect x="1668.40" y="1066.50" width="24.80" height="26.00" fill="#1c2570" />
<text x="1701.8" y="1083.9" font-size="16.99" textLength="107.9" lengthAdjust="spacingAndGlyphs" stroke="#000" stroke-width="0.35" >Chytridiomycota</text>
<rect x="1814.70" y="1066.50" width="24.50" height="26.00" fill="#0a1640" />
<text x="1846.1" y="1085.0" font-size="16.99" textLength="37.2" lengthAdjust="spacingAndGlyphs" stroke="#000" stroke-width="0.35" >Other</text>
</svg>
</body></html>
